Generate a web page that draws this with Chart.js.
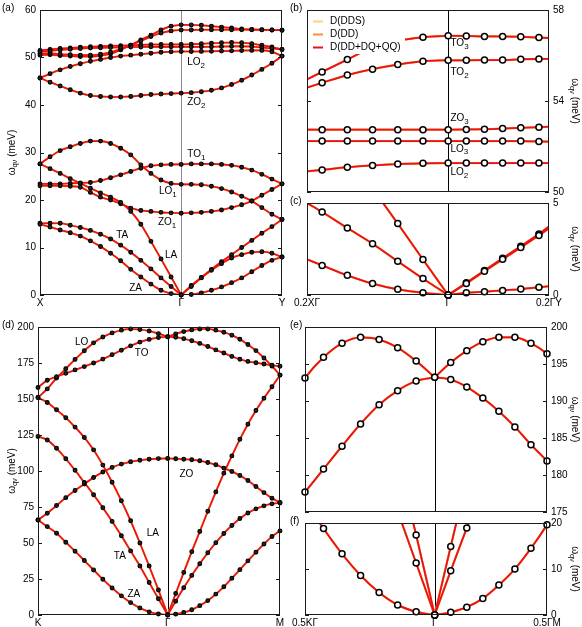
<!DOCTYPE html>
<html>
<head>
<meta charset="utf-8">
<script src="https://cdn.jsdelivr.net/npm/chart.js@4.4.1/dist/chart.umd.min.js"></script>
<style>
  body { margin: 0; background: #fff; }
  #wrap { position: relative; width: 582px; height: 627px; }
  canvas { position: absolute; left: 0; top: 0; }
</style>
</head>
<body>
<div id="wrap">
  <canvas id="pa" width="582" height="627"></canvas>
  <canvas id="pb" width="582" height="627"></canvas>
  <canvas id="pc" width="582" height="627"></canvas>
  <canvas id="pd" width="582" height="627"></canvas>
  <canvas id="pe" width="582" height="627"></canvas>
  <canvas id="pf" width="582" height="627"></canvas>
</div>
<script>
// ---- series (three force-constant models, drawn on top of each other)
const seriesNames = ['D(DDS)', 'D(DD)', 'D(DD+DQ+QQ)'];
const seriesColors = ['#fdd27a', '#fd8d3c', '#e8121a'];
const lineWidths = [2.0, 1.8, 1.6];

// ---- (a) X - Gamma - Y path, q coordinate along the path
const qA = [0, 0.1, 0.2, 0.3, 0.4, 0.5, 0.6, 0.7, 0.8, 0.9, 1.0, 1.1, 1.2, 1.3, 1.4,
            1.5, 1.6, 1.7, 1.8, 1.9, 2.0, 2.1, 2.2, 2.3, 2.4];
const ticksA = [0, 1.4, 2.4];
const namesA = ['X', 'Γ', 'Y'];

const aZA  = [14.9, 14.3, 13.7, 13.1, 12.4, 11.4, 10.2, 8.8, 7.2, 5.4, 3.8, 2.3, 1.0, 0.3, 0,
              0.1, 0.45, 1.0, 1.7, 2.6, 3.6, 4.9, 6.2, 7.3, 8.0];
const aTA  = [15.1, 15.1, 15.1, 14.7, 14.2, 13.6, 12.8, 11.8, 10.5, 9.0, 7.3, 5.5, 3.6, 1.8, 0,
              1.8, 3.6, 5.2, 6.6, 7.8, 8.5, 9.0, 9.1, 8.8, 8.0];
const aLA  = [27.6, 26.6, 25.6, 24.5, 23.5, 22.5, 21.5, 20.6, 19.5, 17.6, 14.9, 11.3, 7.6, 3.8, 0,
              2.0, 3.7, 5.4, 7.0, 8.5, 10.0, 11.5, 13.0, 14.4, 15.9];
const aZO1 = [23.0, 23.0, 23.0, 22.9, 22.7, 21.6, 20.6, 20.0, 19.2, 18.3, 17.8, 17.6, 17.4, 17.3, 17.2,
              17.3, 17.4, 17.6, 17.9, 18.4, 19.0, 19.8, 21.0, 22.2, 23.4];
const aLO1 = [27.6, 29.1, 30.4, 31.2, 31.9, 32.4, 32.4, 31.9, 30.9, 29.5, 27.4, 25.6, 24.2, 23.5, 23.3,
              23.3, 23.2, 22.9, 22.4, 21.7, 20.8, 19.8, 18.4, 17.0, 15.9];
const aTO1 = [23.4, 23.4, 23.4, 23.5, 23.6, 23.7, 24.1, 24.7, 25.3, 26.0, 26.7, 27.2, 27.4, 27.5, 27.5,
              27.6, 27.6, 27.6, 27.5, 27.3, 26.9, 26.3, 25.4, 24.4, 23.4];
const aZO2 = [45.7, 44.8, 44.0, 43.2, 42.5, 42.0, 41.8, 41.7, 41.7, 41.8, 42.0, 42.2, 42.3, 42.4, 42.5,
              42.6, 42.8, 43.1, 43.6, 44.3, 45.2, 46.3, 47.5, 48.8, 50.3];
const aLO2 = [45.7, 46.6, 47.4, 48.1, 48.7, 49.2, 49.6, 50.0, 50.3, 50.5, 50.7, 50.9, 51.1, 51.2, 51.27,
              51.27, 51.28, 51.3, 51.35, 51.4, 51.45, 51.5, 51.5, 51.2, 50.3];
const aLO3 = [51.2, 51.4, 51.6, 51.75, 51.9, 52.0, 52.05, 52.1, 52.15, 52.2, 52.22, 52.24, 52.24, 52.24, 52.24,
              52.24, 52.24, 52.25, 52.3, 52.35, 52.35, 52.3, 52.1, 51.9, 51.7];
const aZO3 = [51.5, 51.7, 51.9, 52.0, 52.15, 52.25, 52.35, 52.45, 52.5, 52.55, 52.65, 52.72, 52.74, 52.74, 52.74,
              52.78, 52.88, 53.0, 53.1, 53.15, 53.1, 52.9, 52.6, 52.2, 51.7];
const aTO2 = [50.8, 50.9, 50.7, 50.6, 50.5, 50.5, 50.7, 51.1, 51.8, 52.6, 53.5, 54.4, 55.15, 55.6, 55.8,
              55.8, 55.85, 55.85, 55.85, 55.85, 55.85, 55.85, 55.82, 55.8, 55.75];
const aTO3 = [50.5, 50.6, 50.4, 50.3, 50.2, 50.2, 50.4, 50.8, 51.6, 52.6, 53.7, 54.7, 55.8, 56.6, 56.87,
              56.85, 56.78, 56.6, 56.4, 56.2, 56.0, 55.9, 55.85, 55.8, 55.75];

// ---- (b),(c) zoom around Gamma: 0.2 X-Gamma ... 0.2 Gamma-Y
const qB = [1.12, 1.15, 1.2, 1.25, 1.3, 1.35, 1.4, 1.436, 1.472, 1.508, 1.544, 1.58, 1.6];
const ticksB = [1.12, 1.4, 1.6];
const namesC = ['0.2XΓ', 'Γ', '0.2ΓY'];

const bTO3 = [54.95, 55.28, 55.82, 56.35, 56.65, 56.8, 56.87, 56.86, 56.84, 56.84, 56.82, 56.79, 56.77];
const bTO2 = [54.59, 54.8, 55.14, 55.4, 55.6, 55.75, 55.79, 55.79, 55.8, 55.8, 55.83, 55.85, 55.85];
const bZO3 = [52.74, 52.74, 52.74, 52.74, 52.74, 52.74, 52.74, 52.75, 52.76, 52.79, 52.82, 52.85, 52.87];
const bLO3 = [52.24, 52.24, 52.24, 52.24, 52.24, 52.24, 52.24, 52.24, 52.24, 52.24, 52.24, 52.22, 52.21];
const bLO2 = [50.91, 50.97, 51.09, 51.17, 51.23, 51.26, 51.27, 51.27, 51.27, 51.27, 51.27, 51.27, 51.27];

const cZA = [1.94, 1.61, 1.07, 0.62, 0.31, 0.12, 0, 0.12, 0.18, 0.25, 0.32, 0.42, 0.48];
const cTA = [5.0, 4.51, 3.64, 2.79, 1.83, 0.89, 0, 0.63, 1.29, 1.94, 2.58, 3.24, 3.62];
const cLA = [10.86, 9.7, 7.75, 5.8, 3.88, 1.93, 0, 0.66, 1.33, 2.0, 2.65, 3.32, 3.72];

// ---- (d) K - Gamma - M path (graphene)
const qD = [0, 0.0825, 0.165, 0.2474, 0.3299, 0.4124, 0.4949, 0.5774, 0.6598, 0.7423, 0.8248, 0.9073, 0.9897, 1.0722, 1.1547,
            1.2261, 1.2976, 1.369, 1.4404, 1.5118, 1.5833, 1.6547, 1.7261, 1.7976, 1.869, 1.9404, 2.0118, 2.0833, 2.1547];
const ticksD = [0, 1.1547, 2.1547];
const namesD = ['K', 'Γ', 'M'];
const ticksF = [0.5774, 1.1547, 1.6547];
const namesF = ['0.5KΓ', 'Γ', '0.5ΓM'];

const dZA = [66, 61.4, 56.8, 50.5, 44.3, 37.8, 31.3, 24.8, 18.8, 13.3, 8.6, 4.9, 2.2, 0.7, 0,
             0.6, 1.7, 3.6, 6.5, 10.0, 14.5, 19.6, 25.5, 31.5, 37.6, 43.6, 49.3, 54.5, 58.4];
const dTA = [124, 121.5, 115.8, 108.5, 100.5, 92, 83.5, 74.5, 65, 55, 44.5, 34, 22.6, 11.3, 0,
             9.6, 18.9, 27.5, 35.6, 43.2, 50.2, 56.6, 62.2, 67.0, 70.8, 73.7, 75.8, 77.2, 77.8];
const dLA = [151, 147.6, 142.5, 137, 130.5, 123.3, 114.7, 104.1, 92.2, 79.3, 65.4, 50, 34, 17.4, 0,
             14.9, 29.6, 44, 58, 72, 85.5, 98.5, 110.5, 122, 132.5, 142, 150.5, 158.5, 166.6];
const dZO = [66, 70.7, 76, 81.5, 86.5, 91, 95.5, 99.3, 102.5, 104.8, 106.4, 107.5, 108.2, 108.6, 108.7,
             108.5, 108.2, 107.8, 107.1, 105.9, 104.3, 102, 99.7, 96.9, 93.4, 89.2, 85, 81.1, 78.1];
const dTO = [158, 163, 165.5, 167.8, 170.2, 172.5, 175, 177.7, 180.8, 183.9, 186.9, 189.5, 191.4, 192.7, 193.2,
             192.9, 191.9, 190.4, 188.6, 186.5, 184.1, 181.9, 179.6, 177.6, 176.1, 175.2, 174.3, 173.4, 172.7];
const dLO = [151, 157, 164.5, 171, 177.5, 183.5, 189, 193.1, 195.9, 197.8, 198.6, 198.3, 197.2, 195.4, 193.2,
             195.2, 196.8, 198.0, 198.6, 198.6, 197.8, 196.4, 194.3, 191.5, 187.8, 183.6, 178.5, 172.8, 166.6];
const qFlat = [0, 2.1547];
const dFlat = [0, 0];

// ---- tick values
const yTicksA = [0, 10, 20, 30, 40, 50, 60];
const yTicksB = [50, 54, 58];
const yTicksC = [0, 5];
const yTicksD = [0, 25, 50, 75, 100, 125, 150, 175, 200];
const yTicksE = [175, 180, 185, 190, 195, 200];
const yTicksF = [0, 10, 20];

const FONT = '"Liberation Sans", Arial, sans-serif';
const W = 582, H = 627;

function drawSub(ctx, x, y, main, sub, size) {
  ctx.font = size + 'px ' + FONT;
  ctx.textAlign = 'left';
  ctx.textBaseline = 'middle';
  ctx.fillText(main, x, y);
  if (sub) {
    const w = ctx.measureText(main).width;
    ctx.font = Math.round(size * 0.75) + 'px ' + FONT;
    ctx.fillText(sub, x + w, y + size * 0.35);
  }
}

function drawTitle(ctx, cx, cy, rot) {
  ctx.save();
  ctx.translate(cx, cy);
  ctx.rotate(rot);
  ctx.textAlign = 'left';
  ctx.textBaseline = 'middle';
  ctx.font = '10px ' + FONT;
  const w1 = ctx.measureText('ω').width, w3 = ctx.measureText(' (meV)').width;
  ctx.font = '7.5px ' + FONT;
  const w2 = ctx.measureText('qν').width;
  let x0 = -(w1 + w2 + w3) / 2;
  ctx.font = '10px ' + FONT;
  ctx.fillText('ω', x0, 0);
  ctx.font = '7.5px ' + FONT;
  ctx.fillText('qν', x0 + w1, 3);
  ctx.font = '10px ' + FONT;
  ctx.fillText(' (meV)', x0 + w1 + w2, 0);
  ctx.restore();
}

const decor = {
  id: 'decor',
  beforeDatasetsDraw(chart, args, o) {
    const {ctx, chartArea: a, scales: {x}} = chart;
    const gx = Math.round(x.getPixelForValue(o.gamma)) + 0.5;
    ctx.save();
    ctx.strokeStyle = o.gammaColor;
    ctx.lineWidth = 1;
    ctx.beginPath();
    ctx.moveTo(gx, a.top);
    ctx.lineTo(gx, a.bottom);
    ctx.stroke();
    ctx.restore();
  },
  afterDatasetsDraw(chart, args, o) {
    const {ctx, chartArea: a, scales: {x, y}} = chart;
    ctx.save();
    ctx.fillStyle = '#000';
    (o.labels || []).forEach(l => {
      drawSub(ctx, x.getPixelForValue(l.x), y.getPixelForValue(l.y), l.t, l.s, 10);
    });

    if (o.legend) {
      ctx.fillStyle = '#fff';
      ctx.fillRect(a.left + 1, a.top + 1, 97, 43);
      seriesNames.forEach((n, k) => {
        const yy = Math.round(a.top + 11 + k * 13.2) + 0.5;
        ctx.strokeStyle = seriesColors[k];
        ctx.lineWidth = 2;
        ctx.beginPath();
        ctx.moveTo(a.left + 6, yy);
        ctx.lineTo(a.left + 16, yy);
        ctx.stroke();
        ctx.fillStyle = '#000';
        ctx.font = '10px ' + FONT;
        ctx.textAlign = 'left';
        ctx.textBaseline = 'middle';
        ctx.fillText(n, a.left + 23, yy);
      });
    }

    // frame + inner ticks on both sides
    ctx.strokeStyle = '#1a1a1a';
    ctx.lineWidth = 1;
    ctx.strokeRect(a.left + 0.5, a.top + 0.5, a.right - a.left - 1, a.bottom - a.top - 1);
    y.ticks.forEach(t => {
      const py = Math.round(y.getPixelForValue(t.value)) + 0.5;
      ctx.beginPath();
      ctx.moveTo(a.left, py); ctx.lineTo(a.left + 4, py);
      ctx.moveTo(a.right - 4, py); ctx.lineTo(a.right, py);
      ctx.stroke();
    });

    ctx.fillStyle = '#000';
    ctx.font = '10px ' + FONT;
    ctx.textAlign = 'left';
    ctx.textBaseline = 'middle';
    ctx.fillText(o.letter, o.letterX, a.top - 2);
    drawTitle(ctx, o.titleX, (a.top + a.bottom) / 2, o.side === 'left' ? -Math.PI / 2 : Math.PI / 2);
    ctx.restore();
  }
};

function makePanel(id, p) {
  const datasets = [];
  p.bands.forEach(b => {
    const pts = p.q.map((qv, i) => ({x: qv, y: b[i]}));
    // split at Gamma so the kink there stays sharp
    [pts.slice(0, p.split + 1), pts.slice(p.split)].forEach(seg => {
      seriesColors.forEach((c, k) => {
        datasets.push({
          data: seg, showLine: true, borderColor: c, borderWidth: lineWidths[k] * p.lw,
          pointRadius: 0, cubicInterpolationMode: 'monotone', order: 10 - k
        });
      });
    });
    datasets.push({
      data: pts.slice(p.mark[0], p.mark[1]), showLine: false,
      pointRadius: p.dot.r, pointBorderWidth: p.dot.w,
      pointBackgroundColor: p.dot.fill, pointBorderColor: '#000',
      order: 1, clip: 6
    });
  });
  (p.extra || []).forEach(e => {
    datasets.push({
      data: e.q.map((qv, i) => ({x: qv, y: e.v[i]})), showLine: true,
      borderColor: seriesColors[2], borderWidth: 1.6, pointRadius: 0, order: 5
    });
  });

  const yw = 30, xh = 14;
  const [l, t, r, b] = p.area;
  const pad = p.side === 'left'
    ? {left: l - yw, top: t, right: W - r, bottom: H - b - xh}
    : {left: l, top: t, right: W - r - yw, bottom: H - b - xh};

  new Chart(document.getElementById(id), {
    type: 'scatter',
    data: {datasets},
    options: {
      responsive: false,
      animation: false,
      devicePixelRatio: 1,
      events: [],
      layout: {padding: pad},
      plugins: {
        legend: {display: false},
        tooltip: {enabled: false},
        decor: p.decor
      },
      scales: {
        x: {
          type: 'linear', min: p.xr[0], max: p.xr[1],
          afterBuildTicks: s => { s.ticks = p.xt.map(v => ({value: v})); },
          afterFit: s => { s.height = xh; },
          ticks: {
            autoSkip: false, maxRotation: 0, minRotation: 0, padding: 2,
            color: '#000', font: {family: FONT, size: 10},
            callback: (v, i) => p.xn[i]
          },
          grid: {display: false, drawTicks: false},
          border: {display: false}
        },
        y: {
          type: 'linear', position: p.side, min: p.yr[0], max: p.yr[1],
          afterBuildTicks: s => { s.ticks = p.yt.map(v => ({value: v})); },
          afterFit: s => { s.width = yw; },
          ticks: {padding: 4, color: '#000', font: {family: FONT, size: 10}},
          grid: {display: false, drawTicks: false},
          border: {display: false}
        }
      }
    },
    plugins: [decor]
  });
}

const smallDot = {r: 1.9, w: 1.1, fill: '#222'};
const ringDot = {r: 3, w: 1.5, fill: '#fff'};
const bandsA = [aZA, aTA, aLA, aZO1, aLO1, aTO1, aZO2, aLO2, aLO3, aZO3, aTO2, aTO3];
const bandsD = [dZA, dTA, dLA, dZO, dTO, dLO];

makePanel('pa', {
  q: qA, bands: bandsA, split: 14, mark: [0, 25], dot: smallDot, lw: 1,
  area: [40, 7, 282, 295], side: 'left', xr: [0, 2.4], yr: [0, 60],
  xt: ticksA, xn: namesA, yt: yTicksA,
  decor: {
    gamma: 1.4, gammaColor: '#8a8a8a', letter: '(a)', letterX: 2, titleX: 12, side: 'left',
    labels: [
      {x: 1.46, y: 49.0, t: 'LO', s: '2'}, {x: 1.46, y: 40.6, t: 'ZO', s: '2'},
      {x: 1.46, y: 29.6, t: 'TO', s: '1'}, {x: 1.18, y: 21.9, t: 'LO', s: '1'},
      {x: 1.17, y: 15.4, t: 'ZO', s: '1'}, {x: 0.755, y: 12.5, t: 'TA'},
      {x: 1.24, y: 8.3, t: 'LA'}, {x: 0.885, y: 1.4, t: 'ZA'}
    ]
  }
});

makePanel('pb', {
  q: qB, bands: [bLO2, bLO3, bZO3, bTO2, bTO3], split: 6, mark: [1, 12], dot: ringDot, lw: 1.1,
  area: [307, 7, 549, 192], side: 'right', xr: [1.12, 1.6], yr: [50, 58],
  xt: ticksB, xn: ['', '', ''], yt: yTicksB,
  decor: {
    gamma: 1.4, gammaColor: '#000', letter: '(b)', letterX: 290, titleX: 575, side: 'right', legend: true,
    labels: [
      {x: 1.4045, y: 56.55, t: 'TO', s: '3'}, {x: 1.4045, y: 55.25, t: 'TO', s: '2'},
      {x: 1.4045, y: 53.22, t: 'ZO', s: '3'}, {x: 1.4045, y: 51.9, t: 'LO', s: '3'},
      {x: 1.4045, y: 50.88, t: 'LO', s: '2'}
    ]
  }
});

makePanel('pc', {
  q: qB, bands: [cZA, cTA, cLA], split: 6, mark: [1, 12], dot: ringDot, lw: 1.1,
  area: [307, 203, 549, 295], side: 'right', xr: [1.12, 1.6], yr: [0, 5],
  xt: ticksB, xn: namesC, yt: yTicksC,
  decor: {gamma: 1.4, gammaColor: '#000', letter: '(c)', letterX: 290, titleX: 575, side: 'right'}
});

makePanel('pd', {
  q: qD, bands: bandsD, split: 14, mark: [0, 29], dot: smallDot, lw: 1,
  extra: [{q: qFlat, v: dFlat}],
  area: [38, 327, 280, 615], side: 'left', xr: [0, 2.1547], yr: [0, 200],
  xt: ticksD, xn: namesD, yt: yTicksD,
  decor: {
    gamma: 1.1547, gammaColor: '#000', letter: '(d)', letterX: 2, titleX: 12, side: 'left',
    labels: [
      {x: 0.329, y: 189.5, t: 'LO'}, {x: 0.862, y: 182, t: 'TO'}, {x: 1.259, y: 98, t: 'ZO'},
      {x: 0.968, y: 56.5, t: 'LA'}, {x: 0.675, y: 40.5, t: 'TA'}, {x: 0.797, y: 14.5, t: 'ZA'}
    ]
  }
});

makePanel('pe', {
  q: qD, bands: bandsD, split: 14, mark: [0, 29], dot: ringDot, lw: 1.1,
  area: [305, 327, 547, 512], side: 'right', xr: [0.5774, 1.6547], yr: [175, 200],
  xt: ticksF, xn: ['', '', ''], yt: yTicksE,
  decor: {gamma: 1.1547, gammaColor: '#000', letter: '(e)', letterX: 290, titleX: 575, side: 'right'}
});

makePanel('pf', {
  q: qD, bands: bandsD, split: 14, mark: [0, 29], dot: ringDot, lw: 1.1,
  area: [305, 523, 547, 615], side: 'right', xr: [0.5774, 1.6547], yr: [0, 20],
  xt: ticksF, xn: namesF, yt: yTicksF,
  decor: {gamma: 1.1547, gammaColor: '#000', letter: '(f)', letterX: 290, titleX: 575, side: 'right'}
});
</script>
</body>
</html>
